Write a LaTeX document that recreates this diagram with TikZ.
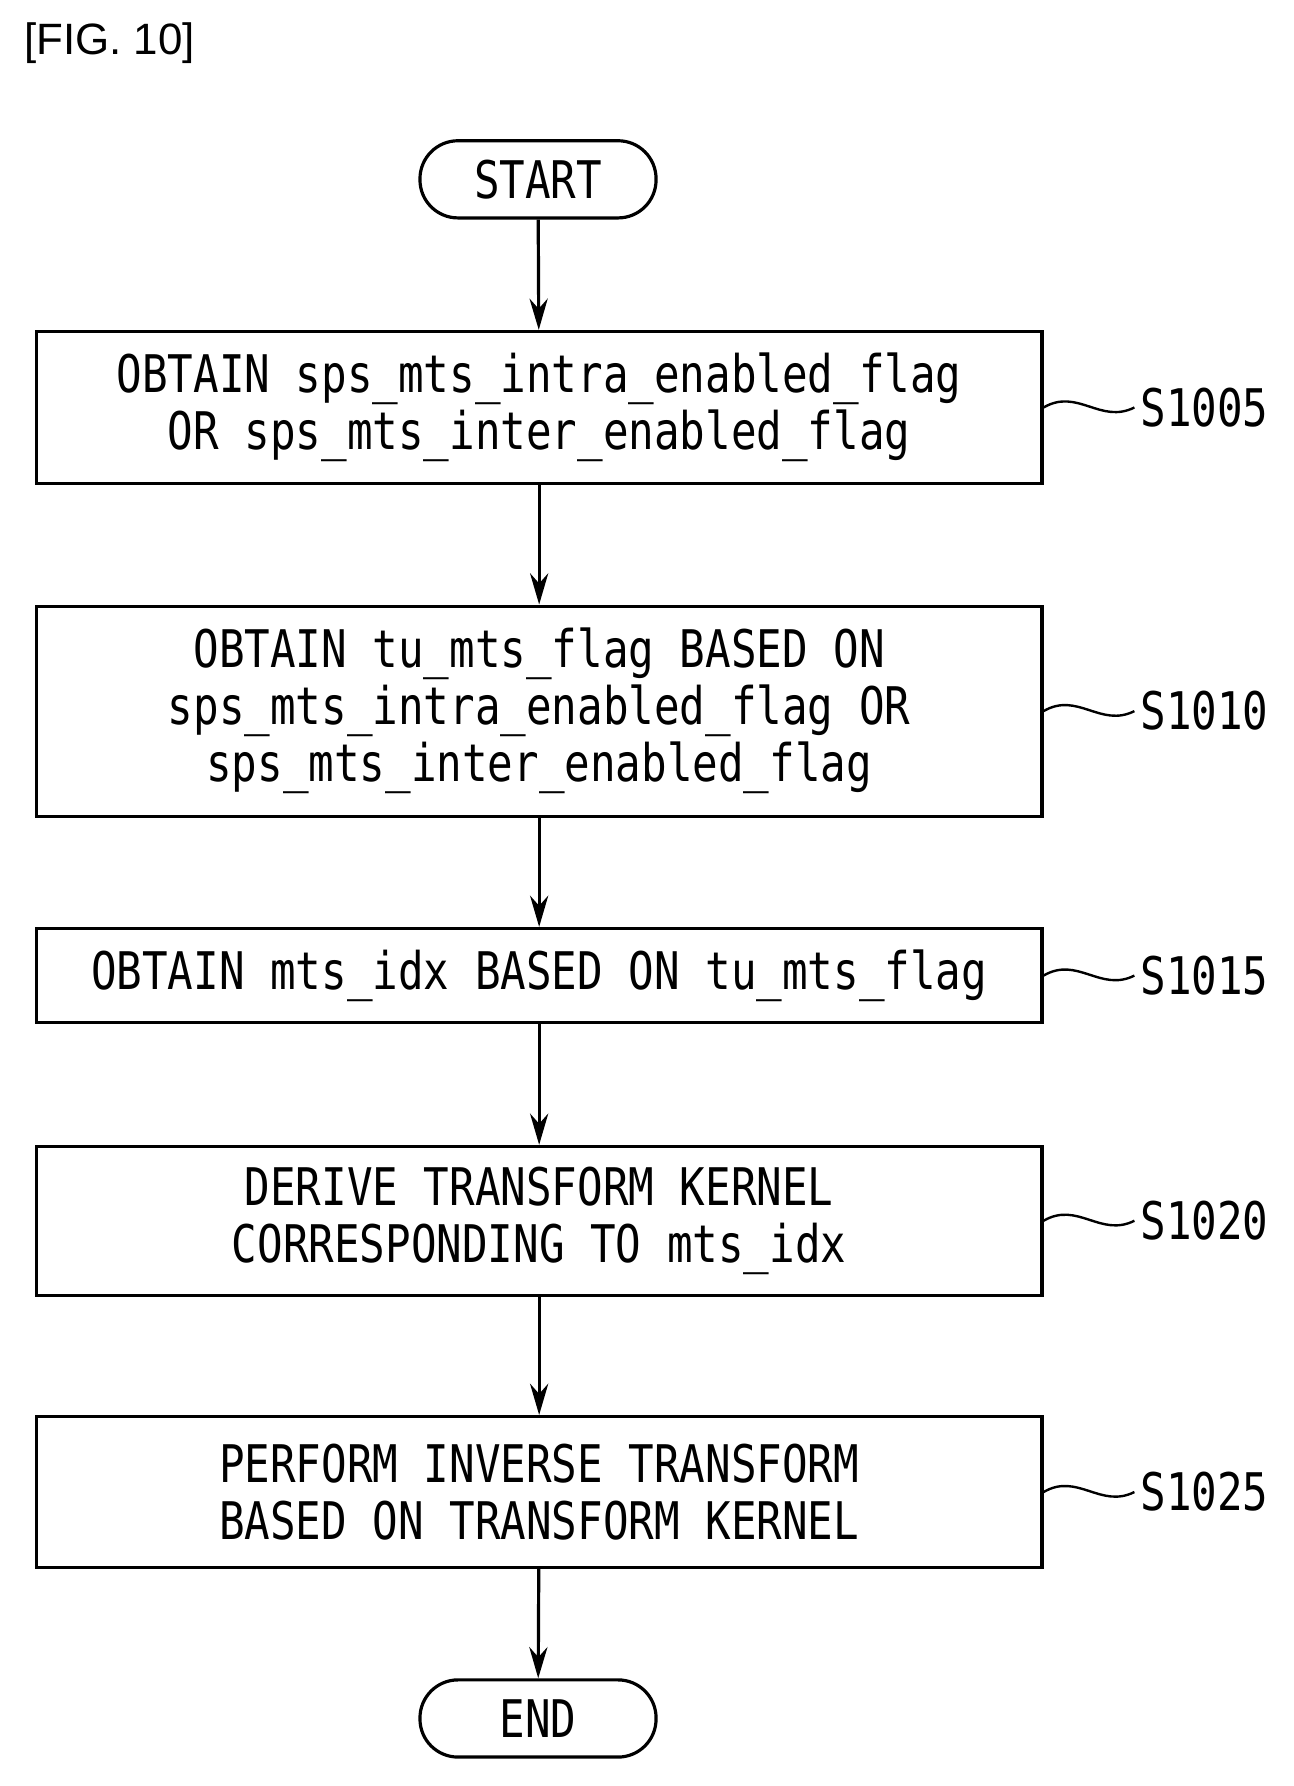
\documentclass[tikz,border=0pt]{standalone}
\usepackage{fontspec}
\setmainfont{Liberation Sans}
\newfontfamily\gothic{DejaVu Sans Mono}[FakeStretch=0.82]
\usetikzlibrary{arrows.meta,positioning}
\tikzset{
 proc/.style={draw,line width=1.6pt,minimum width=17.72cm,align=center,font=\gothic\fontsize{26}{28.5}\selectfont,inner sep=0pt},
 term/.style={draw,line width=1.6pt,rounded corners=0.67cm,minimum width=4.16cm,minimum height=1.36cm,font=\gothic\fontsize{26}{28.5}\selectfont},
 flow/.style={line width=1.6pt,-{Stealth[length=0.55cm,width=0.32cm]}},
 tag/.style={font=\gothic\fontsize{26}{28.5}\selectfont,anchor=west,inner sep=0pt}
}
\begin{document}
\begin{tikzpicture}
\useasboundingbox (0,0) rectangle (22.8,-31.47);
\node[anchor=west,font=\fontsize{22}{24}\selectfont] (fig) at (0.3,-0.76) {[FIG. 10]};
%terminals
\node[term] (start) at (9.48,-3.16) {START};
\node[term] (end) at (9.48,-30.28) {END};
%steps
\node[proc,minimum height=2.68cm] (s1) at (9.5,-7.18) {OBTAIN sps\_mts\_intra\_enabled\_flag\\OR sps\_mts\_inter\_enabled\_flag};
\node[proc,minimum height=3.7cm] (s2) at (9.5,-12.53) {OBTAIN tu\_mts\_flag BASED ON\\sps\_mts\_intra\_enabled\_flag OR\\sps\_mts\_inter\_enabled\_flag};
\node[proc,minimum height=1.66cm] (s3) at (9.5,-17.19) {OBTAIN mts\_idx BASED ON tu\_mts\_flag};
\node[proc,minimum height=2.62cm] (s4) at (9.5,-21.51) {DERIVE TRANSFORM KERNEL\\CORRESPONDING TO mts\_idx};
\node[proc,minimum height=2.66cm] (s5) at (9.5,-26.29) {PERFORM INVERSE TRANSFORM\\BASED ON TRANSFORM KERNEL};
%arrows
\draw[flow] (start)--(s1);
\draw[flow] (s1)--(s2);
\draw[flow] (s2)--(s3);
\draw[flow] (s3)--(s4);
\draw[flow] (s4)--(s5);
\draw[flow] (s5)--(end);
%labels
\foreach \s/\t in {s1/S1005,s2/S1010,s3/S1015,s4/S1020,s5/S1025}{
 \node[tag] (l\s) at ([xshift=1.7cm]\s.east) {\t};
 \draw[line width=1.2pt] (\s.east) .. controls ++(0.6,0.35) and ++(-0.6,-0.3) .. ([xshift=-0.1cm]l\s.west);
}
\end{tikzpicture}
\end{document}
